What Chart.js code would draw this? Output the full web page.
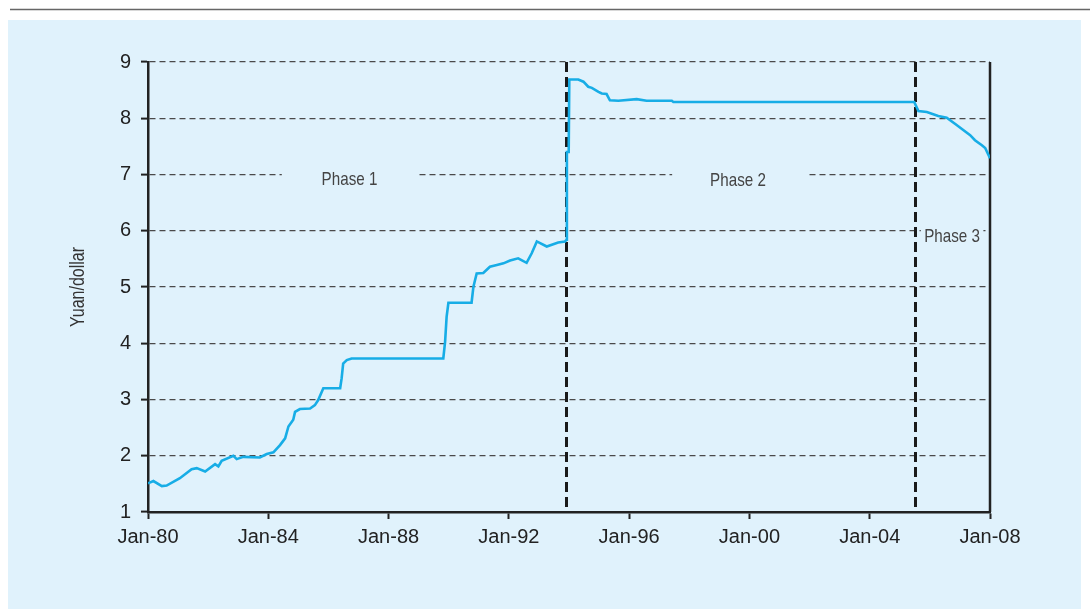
<!DOCTYPE html>
<html>
<head>
<meta charset="utf-8">
<style>
  body { margin: 0; background: #fff; }
  canvas { display: block; }
</style>
</head>
<body>
<canvas id="chart" width="1090" height="610"></canvas>
<script src="https://cdn.jsdelivr.net/npm/chart.js"></script>
<script>
  // decimal years
  const years = [1980.00, 1980.18, 1980.46, 1980.62, 1981.06, 1981.45, 1981.62, 1981.90, 1982.23, 1982.34,
    1982.45, 1982.84, 1982.95, 1983.17, 1983.72, 1983.95, 1984.17, 1984.39, 1984.56, 1984.67,
    1984.83, 1984.89, 1985.05, 1985.39, 1985.55, 1985.66, 1985.83, 1986.39, 1986.44, 1986.49,
    1986.61, 1986.77, 1989.82, 1989.88, 1989.93, 1989.99, 1990.76, 1990.82, 1990.93, 1991.15,
    1991.37, 1991.60, 1991.82, 1992.04, 1992.31, 1992.59, 1992.76, 1992.93, 1993.26, 1993.64,
    1993.87, 1993.92, 1993.93, 1993.99, 1994.01, 1994.31, 1994.48, 1994.64, 1994.76, 1994.98,
    1995.09, 1995.25, 1995.36, 1995.64, 1996.25, 1996.58, 1997.42, 1997.47, 2005.48, 2005.62,
    2005.90, 2006.28, 2006.56, 2006.89, 2007.11, 2007.34, 2007.50, 2007.73, 2007.84, 2008.00];

  const yuanPerDollar = [1.51, 1.55, 1.46, 1.47, 1.60, 1.76, 1.78, 1.72, 1.85, 1.81,
    1.91, 2.00, 1.94, 1.98, 1.97, 2.03, 2.06, 2.19, 2.31, 2.52,
    2.64, 2.78, 2.83, 2.84, 2.90, 2.99, 3.20, 3.20, 3.38, 3.64,
    3.70, 3.73, 3.73, 4.03, 4.47, 4.72, 4.72, 5.00, 5.24, 5.25,
    5.36, 5.39, 5.42, 5.47, 5.51, 5.43, 5.60, 5.81, 5.72, 5.79,
    5.81, 5.84, 7.40, 7.40, 8.69, 8.69, 8.65, 8.56, 8.54, 8.47,
    8.44, 8.43, 8.32, 8.31, 8.34, 8.31, 8.31, 8.29, 8.29, 8.13,
    8.11, 8.04, 8.01, 7.88, 7.79, 7.70, 7.61, 7.52, 7.47, 7.29];

  const xTickYears = [1980, 1984, 1988, 1992, 1996, 2000, 2004, 2008];
  const yTickValues = [1, 2, 3, 4, 5, 6, 7, 8, 9];
  const phaseBreaks = [1993.89, 2005.51];
  const phaseNames = ['Phase 1', 'Phase 2', 'Phase 3'];
  const yAxisTitle = 'Yuan/dollar';

  const PANEL = '#e0f2fc';
  const sans = '"Liberation Sans", Arial, sans-serif';

  // where each phase label sits, and the gap it cuts in the grid line
  const phaseSpots = [
    { x: 1986.70, y: 6.91, gap: [1984.45, 1988.92], line: 7 },
    { x: 1999.62, y: 6.89, gap: [1997.43, 2001.95], line: 7 },
    { x: 2006.74, y: 5.90, gap: [2005.70, 2007.78], line: 6 },
  ];

  // condensed look without a narrow font: squeeze the text horizontally
  function narrowText(ctx, text, px, py, size, color) {
    ctx.save();
    ctx.translate(px, py);
    ctx.scale(0.8, 1);
    ctx.font = size + 'px ' + sans;
    ctx.fillStyle = color;
    ctx.textAlign = 'center';
    ctx.textBaseline = 'middle';
    ctx.fillText(text, 0, 0);
    ctx.restore();
  }

  const decor = {
    id: 'decor',
    beforeDraw(chart) {
      const { ctx, width, height } = chart;
      ctx.save();
      ctx.fillStyle = '#fff';
      ctx.fillRect(0, 0, width, height);
      ctx.fillStyle = PANEL;
      ctx.fillRect(8, 20, 1073, 589);
      ctx.strokeStyle = '#666';
      ctx.lineWidth = 1.5;
      ctx.beginPath();
      ctx.moveTo(10, 9.5);
      ctx.lineTo(width, 9.5);
      ctx.stroke();
      ctx.restore();
    },
    beforeDatasetsDraw(chart) {
      const { ctx, chartArea: a, scales: { x, y } } = chart;
      ctx.save();
      phaseSpots.forEach((p, i) => {
        const gy = y.getPixelForValue(p.line);
        const g0 = x.getPixelForValue(p.gap[0]), g1 = x.getPixelForValue(p.gap[1]);
        ctx.fillStyle = PANEL;
        ctx.fillRect(g0, gy - 3, g1 - g0, 6);
        narrowText(ctx, phaseNames[i], x.getPixelForValue(p.x), y.getPixelForValue(p.y), 19, '#444');
      });
      // phase dividers
      ctx.strokeStyle = '#1a1a1a';
      ctx.lineWidth = 3;
      ctx.setLineDash([10, 5]);
      phaseBreaks.forEach(v => {
        const px = Math.round(x.getPixelForValue(v)) + 0.5;
        ctx.beginPath();
        ctx.moveTo(px, a.top);
        ctx.lineTo(px, a.bottom);
        ctx.stroke();
      });
      // right frame line
      ctx.setLineDash([]);
      ctx.lineWidth = 2.5;
      ctx.strokeStyle = '#222';
      const rx = x.getPixelForValue(2008);
      ctx.beginPath();
      ctx.moveTo(rx, a.top);
      ctx.lineTo(rx, a.bottom);
      ctx.stroke();
      // y axis title
      ctx.translate(78, (a.top + a.bottom) / 2);
      ctx.rotate(-Math.PI / 2);
      narrowText(ctx, yAxisTitle, 0, 0, 20, '#333');
      ctx.restore();
    }
  };

  new Chart(document.getElementById('chart'), {
    type: 'line',
    data: {
      datasets: [{
        data: years.map((yr, i) => ({ x: yr, y: yuanPerDollar[i] })),
        borderColor: '#17ade6',
        borderWidth: 2.6,
        pointRadius: 0,
        tension: 0,
        fill: false,
      }]
    },
    options: {
      responsive: false,
      animation: false,
      events: [],
      layout: { padding: { top: 62, right: 100, bottom: 58, left: 0 } },
      plugins: { legend: { display: false }, tooltip: { enabled: false } },
      scales: {
        x: {
          type: 'linear',
          min: 1980,
          max: 2008,
          afterFit: s => { s.height = 40; },
          afterBuildTicks: s => { s.ticks = xTickYears.map(v => ({ value: v })); },
          ticks: {
            callback: v => 'Jan-' + String(v).slice(2),
            font: { family: sans, size: 20 },
            color: '#222',
            padding: 6,
            maxRotation: 0,
          },
          grid: { drawOnChartArea: false, drawTicks: true, tickLength: 7, tickColor: '#222', tickWidth: 2 },
          border: { color: '#222', width: 2.5 },
        },
        y: {
          min: 1,
          max: 9,
          afterFit: s => { s.width = 148; },
          afterBuildTicks: s => { s.ticks = yTickValues.map(v => ({ value: v })); },
          ticks: {
            font: { family: sans, size: 20 },
            color: '#222',
            padding: 10,
          },
          grid: {
            color: c => c.tick && c.tick.value === 1 ? 'rgba(0,0,0,0)' : '#4a4a4a',
            lineWidth: 1.2,
            tickLength: 7,
            tickColor: '#222',
            tickWidth: 2,
          },
          border: { color: '#222', width: 2.5, dash: [6, 4] },
        }
      }
    },
    plugins: [decor]
  });
</script>
</body>
</html>
